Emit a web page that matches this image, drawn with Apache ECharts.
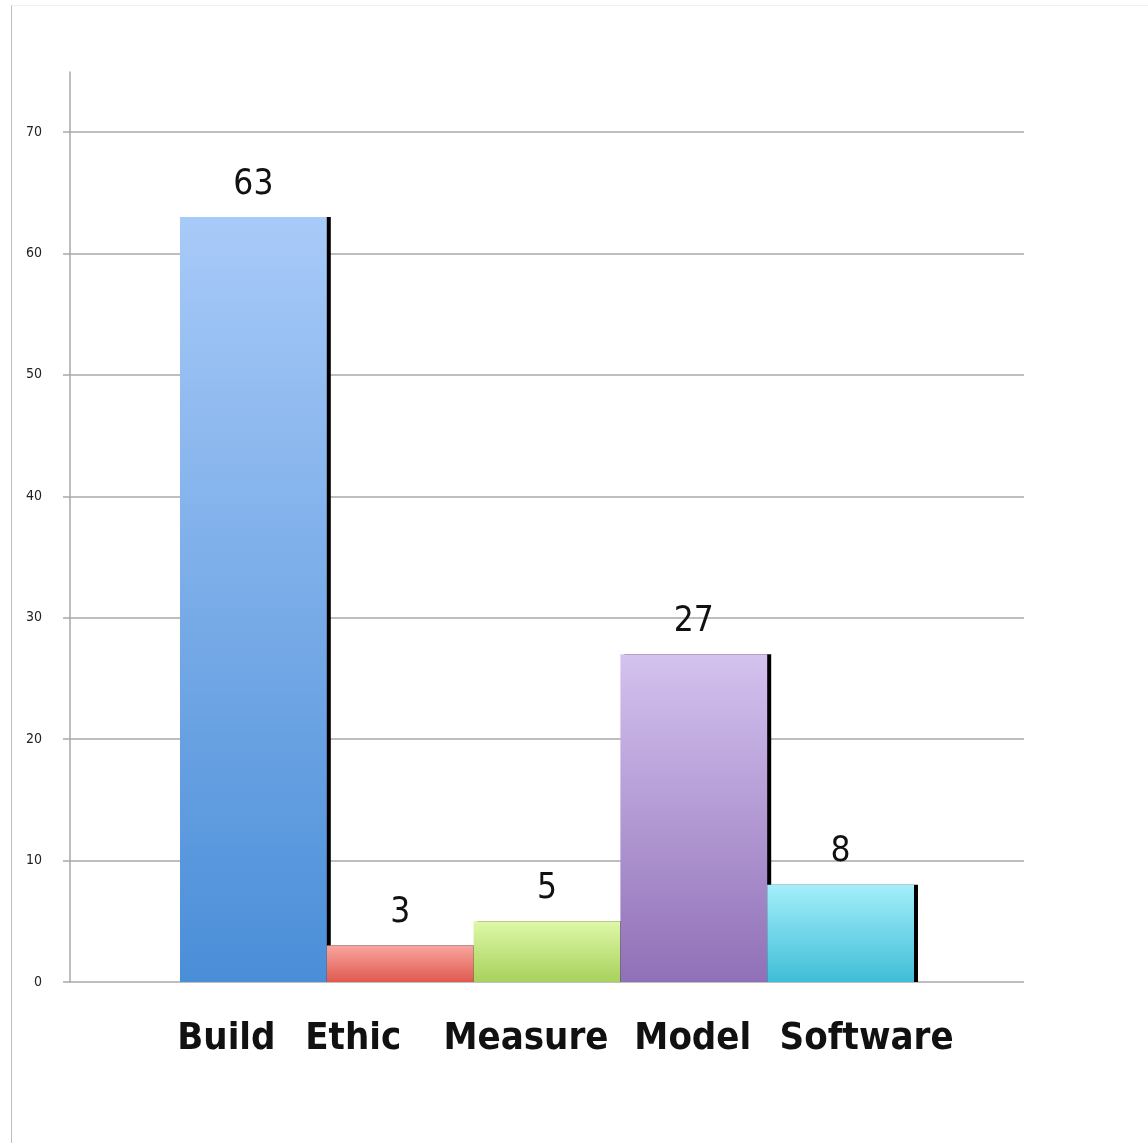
<!DOCTYPE html>
<html>
<head>
<meta charset="utf-8">
<script src="https://cdn.jsdelivr.net/npm/echarts@6/dist/echarts.min.js"></script>
<style>
  html, body { margin: 0; padding: 0; background: #fff; }
  #frame { position: absolute; left: 11px; top: 5px; width: 1137px; height: 1138px;
           border-left: 1px solid #bdbdbd; border-top: 1px solid #f0f0f0; box-sizing: border-box; }
  #chart { position: absolute; left: 0; top: 0; width: 1148px; height: 1143px; }
</style>
</head>
<body>
<div id="frame"></div>
<div id="chart"></div>
<script>
// ---- data ----
const categories = ['Build', 'Ethic', 'Measure', 'Model', 'Software'];
const counts = [63, 3, 5, 27, 8];
const yTicks = [0, 10, 20, 30, 40, 50, 60, 70];

// ---- styling ----
const gradientStops = [
  ['#a8caf8', '#4a8ed8'],
  ['#f8a69f', '#e0594f'],
  ['#def8a8', '#a8d15c'],
  ['#d4c2ef', '#9070b7'],
  ['#a4eefa', '#3fbed7']
];
const labelNudge = [-27, -47, -21, -1, 26];

const chart = echarts.init(document.getElementById('chart'), null, { renderer: 'canvas' });

const gridColor = '#a9a9a9';
const catData = categories.map((c, i) => {
  const n = labelNudge[i];
  return {
    value: c,
    textStyle: { padding: n < 0 ? [0, -2 * n, 0, 0] : [0, 0, 0, 2 * n] }
  };
});

const option = {
  backgroundColor: 'transparent',
  animation: false,
  grid: [
    { left: 70, right: 124, top: 72, bottom: 161 },   // tall y axis line
    { left: 70, right: 124, top: 132, bottom: 161 },  // ticks, labels, gridlines
    { left: 180, right: 234, top: 132, bottom: 161 }  // bars
  ],
  xAxis: [
    { gridIndex: 0, type: 'value', show: false },
    { gridIndex: 1, type: 'value', show: false },
    {
      gridIndex: 2, type: 'category', data: catData,
      axisLine: { show: false }, axisTick: { show: false },
      axisLabel: {
        margin: 38, interval: 0,
        fontFamily: 'DejaVu Sans Condensed', fontWeight: 'bold', fontSize: 38, color: '#111'
      }
    }
  ],
  yAxis: [
    {
      gridIndex: 0, type: 'value', min: 0, max: 75,
      axisLine: { show: true, lineStyle: { color: gridColor, width: 1.5 } },
      axisTick: { show: false }, axisLabel: { show: false }, splitLine: { show: false }
    },
    {
      gridIndex: 1, type: 'value', min: yTicks[0], max: yTicks[yTicks.length - 1], interval: 10,
      axisLine: { show: false },
      axisTick: { show: true, length: 7, lineStyle: { color: gridColor, width: 1.5 } },
      axisLabel: {
        margin: 28, fontFamily: 'DejaVu Sans Condensed', fontSize: 14, color: '#222',
        verticalAlign: 'middle', padding: [10, 0, 0, 0]
      },
      splitLine: { show: true, lineStyle: { color: gridColor, width: 1.5 } }
    },
    {
      gridIndex: 2, type: 'value', min: 0, max: 70, show: false
    }
  ],
  series: [{
    type: 'bar',
    xAxisIndex: 2, yAxisIndex: 2,
    barWidth: '100%',
    barCategoryGap: '0%',
    data: counts.map((v, i) => ({
      value: v,
      itemStyle: {
        color: new echarts.graphic.LinearGradient(0, 0, 0, 1, [
          { offset: 0, color: gradientStops[i][0] },
          { offset: 1, color: gradientStops[i][1] }
        ]),
        shadowColor: '#000',
        shadowBlur: 0,
        shadowOffsetX: 4,
        shadowOffsetY: 0
      }
    })),
    label: {
      show: true, position: 'top', distance: 15,
      fontFamily: 'DejaVu Sans Condensed', fontSize: 35, color: '#111'
    }
  }]
};
chart.setOption(option);
</script>
</body>
</html>
